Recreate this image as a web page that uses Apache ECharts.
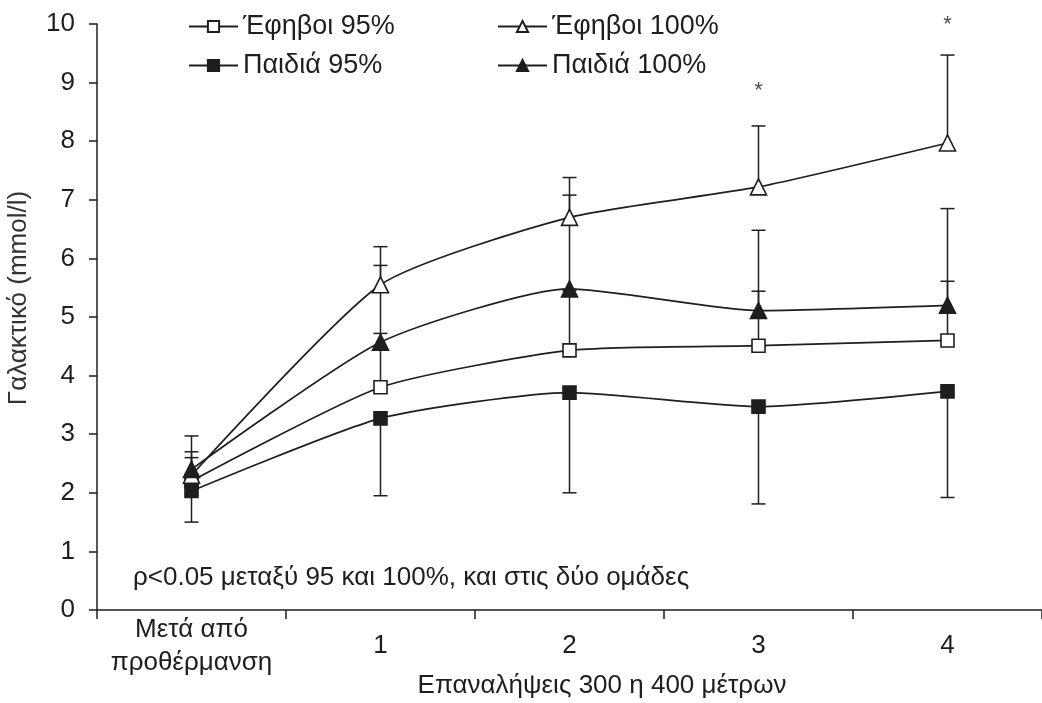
<!DOCTYPE html>
<html><head><meta charset="utf-8">
<script src="https://cdn.jsdelivr.net/npm/echarts@6/dist/echarts.min.js"></script>
<style>html,body{margin:0;padding:0;background:#fff}#c{width:1042px;height:703px}</style>
</head><body><div id="c"></div>
<script>
const categories = ['Μετά από\nπροθέρμανση', '1', '2', '3', '4'];
const yTicks = [0,1,2,3,4,5,6,7,8,9,10];
const teen95 = [2.2, 3.8, 4.43, 4.51, 4.6];
const teen95Err = [2.6, 4.72, 5.45, 5.44, 5.61];
const teen100 = [2.3, 5.55, 6.7, 7.22, 7.97];
const teen100Err = [2.97, 6.2, 7.38, 8.26, 9.47];
const kids95 = [2.03, 3.27, 3.71, 3.47, 3.73];
const kids95Err = [1.5, 1.95, 2.0, 1.81, 1.92];
const kids100 = [2.4, 4.57, 5.48, 5.11, 5.2];
const kids100Err = [2.7, 5.88, 7.08, 6.48, 6.85];
const stars = [[3, 8.85], [4, 9.98]];
const names = ['Έφηβοι 95%', 'Έφηβοι 100%', 'Παιδιά 95%', 'Παιδιά 100%'];
const note = 'ρ<0.05 μεταξύ 95 και 100%, και στις δύο ομάδες';
const yName = 'Γαλακτικό (mmol/l)';
const xName = 'Επαναλήψεις 300 η 400 μέτρων';

const INK = '#1e1e1e';
const FONT = '"Liberation Sans", Arial, sans-serif';

function errSeries(vals, ends) {
  return {
    type: 'custom', z: 1, silent: true,
    data: vals.map((v, i) => [i, v, ends[i]]),
    renderItem: function (params, api) {
      const p0 = api.coord([api.value(0), api.value(1)]);
      const p1 = api.coord([api.value(0), api.value(2)]);
      const hw = 7;
      return {
        type: 'group',
        children: [
          { type: 'line', shape: { x1: p0[0], y1: p0[1], x2: p1[0], y2: p1[1] }, style: { stroke: INK, lineWidth: 1.5 } },
          { type: 'line', shape: { x1: p1[0] - hw, y1: p1[1], x2: p1[0] + hw, y2: p1[1] }, style: { stroke: INK, lineWidth: 1.5 } }
        ]
      };
    }
  };
}
function lineSeries(name, data, symbol, size, filled) {
  return {
    name: name, type: 'line', data: data, z: 3,
    symbol: symbol, symbolSize: size, smooth: 0.2,
    lineStyle: { color: INK, width: 1.7 },
    itemStyle: { color: filled ? INK : '#fff', borderColor: INK, borderWidth: 1.6 },
    emphasis: { disabled: true }
  };
}
const legendText = { fontSize: 27, color: INK, fontFamily: FONT };

const chart = echarts.init(document.getElementById('c'), null, { renderer: 'canvas' });
chart.setOption({
  animation: false,
  backgroundColor: '#fff',
  textStyle: { fontFamily: FONT, color: INK },
  grid: { left: 97, right: 0, top: 24, bottom: 93, containLabel: false, outerBoundsMode: 'none' },
  legend: [
    { data: [names[0], names[2]], orient: 'vertical', left: 183, top: 8, itemWidth: 49, itemHeight: 14, itemGap: 12,
      textStyle: legendText, selectedMode: false },
    { data: [names[1], names[3]], orient: 'vertical', left: 492, top: 8, itemWidth: 49, itemHeight: 14, itemGap: 12,
      textStyle: legendText, selectedMode: false }
  ],
  xAxis: {
    type: 'category', data: categories, boundaryGap: true,
    axisLine: { lineStyle: { color: INK, width: 1.5 } },
    axisTick: { show: true, alignWithLabel: false, interval: 0, length: 9, lineStyle: { color: INK, width: 1.5 } },
    axisLabel: { interval: 0, fontSize: 26, color: INK, fontFamily: FONT, margin: 36, lineHeight: 33, verticalAlign: 'middle' },
    splitLine: { show: false }
  },
  yAxis: {
    type: 'value', min: 0, max: 10, interval: 1,
    axisLine: { show: true, lineStyle: { color: INK, width: 1.5 } },
    axisTick: { show: true, length: 8, lineStyle: { color: INK, width: 1.5 } },
    axisLabel: { fontSize: 26, color: INK, fontFamily: FONT, margin: 22,
      formatter: v => yTicks.includes(v) ? String(v) : '' },
    splitLine: { show: false }
  },
  graphic: [
    { type: 'text', x: 133, y: 578, style: { text: note, fontSize: 26, fill: INK, fontFamily: FONT, textVerticalAlign: 'middle' } },
    { type: 'text', x: 602, y: 686, style: { text: xName, fontSize: 26, fill: INK, fontFamily: FONT, textAlign: 'center', textVerticalAlign: 'middle' } },
    { type: 'text', x: 19, y: 298, rotation: Math.PI / 2, style: { text: yName, fontSize: 26, fill: '#333', fontFamily: FONT, textAlign: 'center', textVerticalAlign: 'middle' } }
  ],
  series: [
    errSeries(teen95, teen95Err),
    errSeries(teen100, teen100Err),
    errSeries(kids95, kids95Err),
    errSeries(kids100, kids100Err),
    lineSeries(names[0], teen95, 'rect', 13, false),
    lineSeries(names[1], teen100, 'triangle', 16, false),
    lineSeries(names[2], kids95, 'rect', 13, true),
    lineSeries(names[3], kids100, 'triangle', 16, true),
    { type: 'scatter', data: stars, symbolSize: 0, silent: true,
      label: { show: true, formatter: '*', position: 'inside', fontSize: 22, color: INK, fontFamily: FONT } }
  ]
});
</script></body></html>
